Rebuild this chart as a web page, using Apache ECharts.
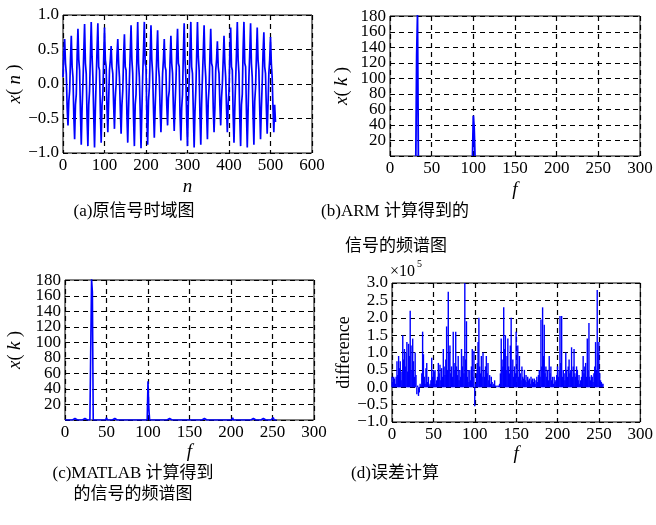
<!DOCTYPE html>
<html>
<head>
<meta charset="utf-8">
<script src="https://cdn.jsdelivr.net/npm/echarts@6/dist/echarts.min.js"></script>
<style>
  html, body { margin: 0; padding: 0; background: #fff; }
  #chart { width: 656px; height: 525px; }
</style>
</head>
<body>
<div id="chart"></div>
<script>
// (a) time signal, one value every 2 samples (8 per cycle of the main tone)
const nStep = 2;
const timeSignal = [
  0.1, 0.45, 0.65, 0.3, 0.15, -0.35, -0.6, -0.25,
  -0.1, 0.35, 0.7, 0.25, 0.1, -0.45, -0.8, -0.3,
  -0.15, 0.4, 0.8, 0.35, 0.2, -0.4, -0.88, -0.35,
  0.0, 0.45, 0.87, 0.3, 0.15, -0.5, -0.9, -0.3,
  -0.1, 0.4, 0.9, 0.4, 0.1, -0.45, -0.92, -0.35,
  0.05, 0.5, 0.88, 0.25, 0.2, -0.4, -0.85, -0.3,
  -0.15, 0.35, 0.82, 0.35, 0.25, -0.35, -0.7, -0.25,
  0.2, 0.35, 0.55, 0.25, 0.15, -0.3, -0.65, -0.2,
  0.0, 0.4, 0.65, 0.3, 0.1, -0.35, -0.72, -0.3,
  -0.1, 0.4, 0.72, 0.25, 0.2, -0.45, -0.85, -0.35,
  0.05, 0.45, 0.85, 0.35, 0.15, -0.5, -0.9, -0.3,
  -0.15, 0.4, 0.9, 0.3, 0.1, -0.4, -0.93, -0.4,
  0.1, 0.5, 0.9, 0.3, 0.25, -0.45, -0.88, -0.25,
  -0.05, 0.4, 0.85, 0.35, 0.15, -0.35, -0.78, -0.35,
  0.0, 0.45, 0.78, 0.25, 0.1, -0.35, -0.7, -0.3,
  0.15, 0.35, 0.65, 0.25, 0.2, -0.3, -0.6, -0.2,
  -0.1, 0.35, 0.7, 0.3, 0.15, -0.35, -0.68, -0.3,
  0.0, 0.45, 0.8, 0.3, 0.25, -0.45, -0.82, -0.35,
  -0.15, 0.45, 0.88, 0.35, 0.1, -0.5, -0.9, -0.3,
  0.05, 0.5, 0.9, 0.25, 0.15, -0.4, -0.92, -0.4,
  -0.1, 0.4, 0.9, 0.4, 0.2, -0.45, -0.88, -0.3,
  0.1, 0.45, 0.85, 0.3, 0.1, -0.4, -0.8, -0.25,
  -0.05, 0.4, 0.8, 0.3, 0.25, -0.35, -0.7, -0.35,
  0.2, 0.35, 0.62, 0.25, 0.15, -0.3, -0.6, -0.2,
  0.0, 0.35, 0.7, 0.3, 0.1, -0.35, -0.7, -0.3,
  -0.1, 0.45, 0.82, 0.25, 0.2, -0.45, -0.85, -0.35,
  0.05, 0.45, 0.9, 0.35, 0.15, -0.5, -0.9, -0.3,
  -0.15, 0.5, 0.9, 0.3, 0.25, -0.4, -0.92, -0.4,
  0.1, 0.45, 0.88, 0.3, 0.1, -0.45, -0.88, -0.25,
  -0.05, 0.4, 0.82, 0.35, 0.2, -0.35, -0.8, -0.35,
  0.0, 0.45, 0.75, 0.25, 0.15, -0.35, -0.72, -0.3,
  0.15, 0.35, 0.68, 0.3, 0.1, -0.35, -0.7, -0.3,
  -0.55
];

// (b) ARM spectrum: the non-zero clusters
const armFreq = [31, 32, 33, 34, 99, 100, 101, 102];
const armMag  = [0, 130, 182, 0, 0, 52, 37, 0];

// (c) MATLAB spectrum: non-zero bins, everything else is 0
const nBins = 256;
const matlabFreq = [12, 16, 24, 32, 33, 50, 60, 70, 80, 88, 100, 101, 118, 126, 136, 146, 168, 178, 184, 202, 213, 227, 239, 251];
const matlabMag  = [2, 2, 2, 182, 165, 3, 2, 2, 2, 2, 50, 15, 2, 2, 2, 2, 2, 2, 2, 3, 2, 2, 2, 3];

// (d) difference, in units of 1e5
const diffVals = [
  0.3, 0.15, 0.3, 0.25, 0.1, 0.3, 0.75, 0.35, 0.9, 0.55, 0.75, 0.2, 0.45, 1.5, 0.8, 1.1,
  0.6, 1.0, 1.3, 0.45, 1.25, 0.9, 2.2, 1.2, 0.5, 1.4, 0.75, 0.3, 1.0, 0.35, -0.2, 0.05,
  -0.25, -0.15, 0.1, 0.05, 0.4, 1.6, 0.95, 0.3, 0.1, 0.55, 0.7, 0.15, 0.3, 0.05, 0.1, 0.2,
  0.85, 0.3, 0.5, 0.45, 0.5, 0.1, 0.2, 0.3, 0.7, 0.4, 0.65, 0.2, 0.55, 0.3, 1.1, 0.6,
  0.35, 0.8, 1.75, 0.5, 2.75, 1.0, 1.2, 0.4, 0.6, 0.3, 1.6, 0.7, 0.5, 1.6, 0.6, 0.35,
  0.9, 0.2, 0.5, 0.3, 1.1, 0.6, 0.9, 0.4, 3.0, 0.8, 1.9, 0.3, 0.5, 0.15, 0.5, 0.2,
  0.6, 1.1, 0.3, 1.05, -0.55, 0.1, 0.4, 0.7, 1.3, 2.0, 0.6, 0.4, 0.9, 0.3, 1.0, 0.5,
  0.3, 0.6, 0.9, 0.4, 0.7, 0.2, 0.35, 0.1, 0.3, 0.15, 0.05, 0.1, 0.2, 0.05, 0.02, 0.05,
  0.0, 0.05, 0.1, 0.4, 1.4, 0.8, 0.6, 2.3, 1.1, 1.5, 0.5, 0.9, 1.4, 0.6, 0.4, 1.2,
  2.0, 0.5, 0.8, 0.3, 0.6, 0.4, 1.6, 0.5, 1.2, 0.3, 0.9, 0.4, 0.2, 0.6, 0.3, 0.25,
  0.5, 0.2, 0.35, 0.15, 0.3, 0.2, 0.25, 0.1, 0.3, 0.2, 0.25, 0.15, 0.25, 0.1, 0.2, 0.3,
  0.15, 0.35, 0.5, 0.3, 1.95, 0.6, 2.3, 0.9, 1.8, 0.4, 0.6, 0.3, 0.5, 0.2, 0.9, 0.4,
  0.6, 0.2, 0.3, 0.1, 0.3, 0.15, 0.2, 0.35, 0.6, 0.3, 0.5, 2.05, 0.7, 2.05, 0.3, 0.5,
  0.4, 0.2, 1.0, 0.5, 0.3, 0.6, 0.8, 0.4, 0.5, 1.15, 0.3, 0.6, 1.1, 0.4, 0.3, 0.6,
  0.5, 0.2, 0.35, 0.1, 0.2, 0.3, 0.5, 0.9, 0.4, 0.6, 0.7, 0.3, 1.4, 0.5, 1.85, 0.3,
  0.2, 0.35, 0.3, 0.15, 0.4, 0.6, 1.3, 0.5, 2.8, 1.0, 1.3, 0.4, 0.2, 0.15, 0.1, 0.1
];

const captions = [
  { text: '(a)原信号时域图', x: 134, y: 212 },
  { text: '(b)ARM 计算得到的', x: 395, y: 212 },
  { text: '信号的频谱图', x: 396, y: 247 },
  { text: '(c)MATLAB 计算得到', x: 133, y: 474 },
  { text: '的信号的频谱图', x: 133, y: 495 },
  { text: '(d)误差计算', x: 395, y: 474 }
];

const serif = '"Liberation Serif", "DejaVu Serif", "Noto Sans CJK SC", serif';
const blue = '#0000ff';

// build series data
const signalData = timeSignal.map((v, i) => [i * nStep, v]);

const armData = [];
armFreq.forEach((f, i) => {
  if (i > 0 && f - armFreq[i - 1] > 1) armData.push('-');
  armData.push([f, armMag[i]]);
});

const matlabFull = new Array(nBins).fill(0);
matlabFreq.forEach((f, i) => { matlabFull[f] = matlabMag[i]; });
const matlabData = matlabFull.map((v, i) => [i, v]);

const diffData = diffVals.map((v, i) => [i, v]);

function fmt1(v) {
  return (v < 0 ? '\u2212' : '') + Math.abs(v).toFixed(1);
}

function xAx(idx, max, interval, name, gap) {
  return {
    type: 'value', gridIndex: idx, min: 0, max: max, interval: interval,
    name: name, nameLocation: 'middle', nameGap: gap,
    nameTextStyle: { fontFamily: serif, fontStyle: 'italic', fontSize: 19, color: '#000' },
    axisLine: { show: false },
    axisTick: { inside: true, length: 4, lineStyle: { color: '#000' } },
    axisLabel: { color: '#000', fontFamily: serif, fontSize: 17, margin: 4, showMaxLabel: true, showMinLabel: true },
    splitLine: { show: true, lineStyle: { color: '#000', type: [5, 4], width: 1.2 } }
  };
}

function yAx(idx, min, max, interval, formatter, name, gap, showMax) {
  return {
    type: 'value', gridIndex: idx, min: min, max: max, interval: interval,
    name: name, nameLocation: 'middle', nameGap: gap, nameRotate: 90,
    nameTextStyle: {
      fontFamily: serif, fontSize: 18, color: '#000',
      rich: { i: { fontFamily: serif, fontStyle: 'italic', fontSize: 19, color: '#000' } }
    },
    axisLine: { show: false },
    axisTick: { inside: true, length: 4, lineStyle: { color: '#000' } },
    axisLabel: {
      color: '#000', fontFamily: serif, fontSize: 17, margin: 4, formatter: formatter,
      showMaxLabel: showMax, showMinLabel: true, hideOverlap: false
    },
    splitLine: { show: true, lineStyle: { color: '#000', type: [5, 4], width: 1.2 } }
  };
}

// spectrum axes: labels only on the multiples of 20, no label at 0
const specLabel = v => (v === 0 || v % 20 !== 0 ? '' : String(v));

const gridStyle = { show: true, borderColor: '#000', borderWidth: 1, backgroundColor: '#fff' };

const graphics = captions.map(c => ({
  type: 'text', x: c.x, y: c.y,
  style: { text: c.text, font: '17px ' + serif, fill: '#000', textAlign: 'center', textVerticalAlign: 'middle', verticalAlign: 'middle' }
}));
graphics.push({ type: 'text', x: 390, y: 264, style: { text: '\u00d710', font: '16px ' + serif, fill: '#000' } });
graphics.push({ type: 'text', x: 417, y: 259, style: { text: '5', font: '10px ' + serif, fill: '#000' } });

const chart = echarts.init(document.getElementById('chart'));
chart.setOption({
  animation: false,
  backgroundColor: '#fff',
  grid: [
    Object.assign({ left: 63, top: 15, width: 249, height: 138 }, gridStyle),
    Object.assign({ left: 390, top: 16, width: 250, height: 140 }, gridStyle),
    Object.assign({ left: 65, top: 280, width: 249, height: 140 }, gridStyle),
    Object.assign({ left: 392, top: 283, width: 250, height: 139 }, gridStyle)
  ],
  xAxis: [
    xAx(0, 600, 100, 'n', 24),
    xAx(1, 300, 50, 'f', 24),
    xAx(2, 300, 50, 'f', 22),
    xAx(3, 300, 50, 'f', 22)
  ],
  yAxis: [
    yAx(0, -1, 1, 0.5, fmt1, '{i|x}( {i|n} )', 34, true),
    yAx(1, 0, 180.5, 20, specLabel, '{i|x}( {i|k} )', 38, false),
    yAx(2, 0, 180.5, 20, specLabel, '{i|x}( {i|k} )', 40, false),
    yAx(3, -1, 3, 0.5, fmt1, 'difference', 38, true)
  ],
  graphic: graphics,
  series: [
    { type: 'line', xAxisIndex: 0, yAxisIndex: 0, data: signalData, showSymbol: false, lineStyle: { color: blue, width: 1.7 } },
    { type: 'line', xAxisIndex: 1, yAxisIndex: 1, data: armData, showSymbol: false, connectNulls: false, lineStyle: { color: blue, width: 1.8 } },
    { type: 'line', xAxisIndex: 2, yAxisIndex: 2, data: matlabData, showSymbol: false, lineStyle: { color: blue, width: 1.6 } },
    { type: 'bar', xAxisIndex: 3, yAxisIndex: 3, data: diffData, barWidth: 1.4, itemStyle: { color: blue } }
  ]
});
</script>
</body>
</html>
